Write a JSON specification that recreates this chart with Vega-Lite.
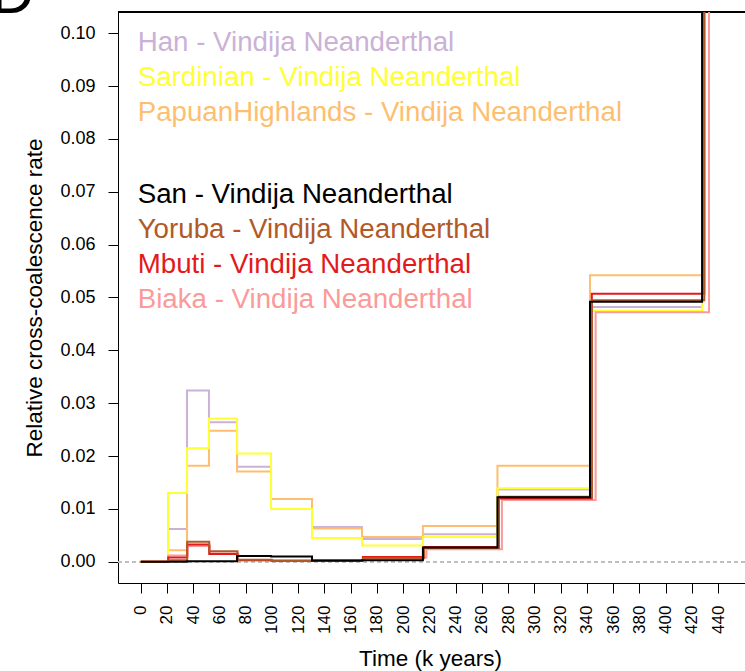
{
  "$schema": "https://vega.github.io/schema/vega-lite/v6.json",
  "autosize": "none",
  "width": 627,
  "height": 571,
  "padding": {"left": 118, "top": 12, "right": 0, "bottom": 88},
  "background": "white",
  "config": {
    "view": {"stroke": null},
    "font": "Liberation Sans",
    "axis": {"grid": false, "domainColor": "black", "tickColor": "black", "labelColor": "black", "titleColor": "black", "titleFontWeight": "normal", "labelFont": "Liberation Sans", "titleFont": "Liberation Sans", "labelOverlap": false, "labelFlush": false},
    "axisX": {"labelOverlap": false, "labelAngle": 270, "tickSize": 10, "labelPadding": 12, "labelFontSize": 17}
  },
  "datasets": {
    "label": [{"letter": "D"}],
    "rates": [
    {"pair":"Han","region":"non","time":0,"rate":0},
    {"pair":"Han","region":"non","time":20.8,"rate":0.0062},
    {"pair":"Han","region":"non","time":35.3,"rate":0.0324},
    {"pair":"Han","region":"non","time":52,"rate":0.0264},
    {"pair":"Han","region":"non","time":73.4,"rate":0.0180},
    {"pair":"Han","region":"non","time":99.3,"rate":0.0119},
    {"pair":"Han","region":"non","time":130.5,"rate":0.0066},
    {"pair":"Han","region":"non","time":168.6,"rate":0.0043},
    {"pair":"Han","region":"non","time":215,"rate":0.0052},
    {"pair":"Han","region":"non","time":271.8,"rate":0.0137},
    {"pair":"Han","region":"non","time":342.3,"rate":0.0482},
    {"pair":"Han","region":"non","time":427.7,"rate":0.3},
    {"pair":"Han","region":"non","time":470,"rate":0.3},
    {"pair":"PapuanHighlands","region":"non","time":0,"rate":0},
    {"pair":"PapuanHighlands","region":"non","time":20.8,"rate":0.0022},
    {"pair":"PapuanHighlands","region":"non","time":35.3,"rate":0.0182},
    {"pair":"PapuanHighlands","region":"non","time":52,"rate":0.0248},
    {"pair":"PapuanHighlands","region":"non","time":73.4,"rate":0.0171},
    {"pair":"PapuanHighlands","region":"non","time":99.3,"rate":0.0119},
    {"pair":"PapuanHighlands","region":"non","time":130.5,"rate":0.0063},
    {"pair":"PapuanHighlands","region":"non","time":168.6,"rate":0.0047},
    {"pair":"PapuanHighlands","region":"non","time":215,"rate":0.0068},
    {"pair":"PapuanHighlands","region":"non","time":271.8,"rate":0.0182},
    {"pair":"PapuanHighlands","region":"non","time":342.3,"rate":0.0542},
    {"pair":"PapuanHighlands","region":"non","time":427.7,"rate":0.3},
    {"pair":"PapuanHighlands","region":"non","time":470,"rate":0.3},
    {"pair":"Sardinian","region":"non","time":0,"rate":0},
    {"pair":"Sardinian","region":"non","time":20.8,"rate":0.0130},
    {"pair":"Sardinian","region":"non","time":35.3,"rate":0.0215},
    {"pair":"Sardinian","region":"non","time":52,"rate":0.0271},
    {"pair":"Sardinian","region":"non","time":73.4,"rate":0.0205},
    {"pair":"Sardinian","region":"non","time":99.3,"rate":0.0100},
    {"pair":"Sardinian","region":"non","time":130.5,"rate":0.0045},
    {"pair":"Sardinian","region":"non","time":168.6,"rate":0.0031},
    {"pair":"Sardinian","region":"non","time":215,"rate":0.0047},
    {"pair":"Sardinian","region":"non","time":271.8,"rate":0.0139},
    {"pair":"Sardinian","region":"non","time":342.3,"rate":0.0475},
    {"pair":"Sardinian","region":"non","time":427.7,"rate":0.3},
    {"pair":"Sardinian","region":"non","time":470,"rate":0.3},
    {"pair":"Biaka","region":"afr","time":0,"rate":0},
    {"pair":"Biaka","region":"afr","time":21.1,"rate":0.0012},
    {"pair":"Biaka","region":"afr","time":35.7,"rate":0.0030},
    {"pair":"Biaka","region":"afr","time":52.7,"rate":0.0016},
    {"pair":"Biaka","region":"afr","time":74.3,"rate":0.0003},
    {"pair":"Biaka","region":"afr","time":100.5,"rate":0.0002},
    {"pair":"Biaka","region":"afr","time":132.1,"rate":0.0003},
    {"pair":"Biaka","region":"afr","time":170.7,"rate":0.0008},
    {"pair":"Biaka","region":"afr","time":217.7,"rate":0.0024},
    {"pair":"Biaka","region":"afr","time":275.2,"rate":0.0117},
    {"pair":"Biaka","region":"afr","time":346.6,"rate":0.0472},
    {"pair":"Biaka","region":"afr","time":433,"rate":0.3},
    {"pair":"Biaka","region":"afr","time":470,"rate":0.3},
    {"pair":"Mbuti","region":"afr","time":0,"rate":0},
    {"pair":"Mbuti","region":"afr","time":20.9,"rate":0.0008},
    {"pair":"Mbuti","region":"afr","time":35.4,"rate":0.0033},
    {"pair":"Mbuti","region":"afr","time":52.2,"rate":0.0015},
    {"pair":"Mbuti","region":"afr","time":73.7,"rate":0.0003},
    {"pair":"Mbuti","region":"afr","time":99.7,"rate":0.0002},
    {"pair":"Mbuti","region":"afr","time":131,"rate":0.0003},
    {"pair":"Mbuti","region":"afr","time":169.3,"rate":0.0009},
    {"pair":"Mbuti","region":"afr","time":215.9,"rate":0.0028},
    {"pair":"Mbuti","region":"afr","time":272.9,"rate":0.0120},
    {"pair":"Mbuti","region":"afr","time":343.7,"rate":0.0507},
    {"pair":"Mbuti","region":"afr","time":429.4,"rate":0.3},
    {"pair":"Mbuti","region":"afr","time":470,"rate":0.3},
    {"pair":"Yoruba","region":"afr","time":0,"rate":0},
    {"pair":"Yoruba","region":"afr","time":20.9,"rate":0.0003},
    {"pair":"Yoruba","region":"afr","time":35.4,"rate":0.0038},
    {"pair":"Yoruba","region":"afr","time":52.2,"rate":0.0020},
    {"pair":"Yoruba","region":"afr","time":73.7,"rate":0.0004},
    {"pair":"Yoruba","region":"afr","time":99.7,"rate":0.0002},
    {"pair":"Yoruba","region":"afr","time":131,"rate":0.0003},
    {"pair":"Yoruba","region":"afr","time":169.3,"rate":0.0007},
    {"pair":"Yoruba","region":"afr","time":215.9,"rate":0.0026},
    {"pair":"Yoruba","region":"afr","time":272.9,"rate":0.0123},
    {"pair":"Yoruba","region":"afr","time":343.7,"rate":0.0495},
    {"pair":"Yoruba","region":"afr","time":429.4,"rate":0.3},
    {"pair":"Yoruba","region":"afr","time":470,"rate":0.3},
    {"pair":"San","region":"afr","time":0,"rate":0},
    {"pair":"San","region":"afr","time":20.8,"rate":0.0000},
    {"pair":"San","region":"afr","time":35.3,"rate":0.0001},
    {"pair":"San","region":"afr","time":52,"rate":0.0001},
    {"pair":"San","region":"afr","time":73.4,"rate":0.0011},
    {"pair":"San","region":"afr","time":99.3,"rate":0.0010},
    {"pair":"San","region":"afr","time":130.5,"rate":0.0002},
    {"pair":"San","region":"afr","time":168.6,"rate":0.0003},
    {"pair":"San","region":"afr","time":215,"rate":0.0027},
    {"pair":"San","region":"afr","time":271.8,"rate":0.0122},
    {"pair":"San","region":"afr","time":342.3,"rate":0.0492},
    {"pair":"San","region":"afr","time":427.7,"rate":0.3},
    {"pair":"San","region":"afr","time":470,"rate":0.3}
  ]},
  "data": {"name": "rates"},
  "layer": [
    {
      "mark": {"type": "rule", "color": "#BEBEBE", "strokeDash": [4, 3], "strokeWidth": 1},
      "encoding": {"y": {"datum": 0, "type": "quantitative"}}
    },
    {
      "mark": {"type": "rule", "color": "black", "strokeWidth": 1},
      "encoding": {"y": {"datum": 0.104, "type": "quantitative"}}
    },
    {
      "transform": [{"filter": "datum.region === 'non'"}],
      "mark": {"type": "line", "interpolate": "step-after", "clip": true, "strokeWidth": 2},
      "encoding": {
        "x": {"field": "time", "type": "quantitative",
              "scale": {"domain": [-17.3, 460.4], "nice": false, "zero": false},
              "axis": {"values": [0,20,40,60,80,100,120,140,160,180,200,220,240,260,280,300,320,340,360,380,400,420,440],
                       "labelAngle": 270, "tickSize": 10, "labelPadding": 12, "labelFontSize": 17,
                       "labelOverlap": false, "labelFlush": false,
                       "title": "Time (k years)", "titleFontSize": 22.5, "titlePadding": 14, "titleX": 312, "titleAnchor": "start", "titleAlign": "center",
                       "domain": true}},
        "y": {"field": "rate", "type": "quantitative",
              "scale": {"domain": [-0.004, 0.104], "nice": false, "zero": false},
              "axis": {"values": [0,0.01,0.02,0.03,0.04,0.05,0.06,0.07,0.08,0.09,0.1], "format": ".2f",
                       "tickSize": 10, "labelPadding": 13, "labelFontSize": 18, "labelOverlap": false, "labelFlush": false,
                       "title": "Relative cross-coalescence rate", "titleFontSize": 22.5, "titlePadding": 13, "domain": true}},
        "color": {"field": "pair", "type": "nominal",
                  "scale": {"domain": ["Han", "Sardinian", "PapuanHighlands"], "range": ["#CAB2D6", "#FFFF33", "#FDBF6F"]},
                  "legend": {"orient": "none", "legendX": -8, "legendY": 17, "title": null, "padding": 0,
                             "symbolSize": 0, "symbolStrokeWidth": 0, "symbolOpacity": 0, "labelOffset": 0,
                             "labelFontSize": 27.7, "labelFont": "Liberation Sans", "labelLimit": 1000, "rowPadding": 6,
                             "labelExpr": "datum.label + ' - Vindija Neanderthal'",
                             "encode": {"labels": {"update": {"fill": {"scale": "color", "field": "value"}}}}}}
      }
    },
    {
      "transform": [{"filter": "datum.region === 'afr'"}],
      "mark": {"type": "line", "interpolate": "step-after", "clip": true, "strokeWidth": 2},
      "encoding": {
        "x": {"field": "time", "type": "quantitative",
              "axis": {"values": [0,20,40,60,80,100,120,140,160,180,200,220,240,260,280,300,320,340,360,380,400,420,440],
                       "labelAngle": 270, "tickSize": 10, "labelPadding": 12, "labelFontSize": 17,
                       "labelOverlap": false, "labelFlush": false,
                       "title": "Time (k years)", "titleFontSize": 22.5, "titlePadding": 14, "titleX": 312, "titleAnchor": "start", "titleAlign": "center",
                       "domain": true}},
        "y": {"field": "rate", "type": "quantitative"},
        "stroke": {"field": "pair", "type": "nominal",
                  "scale": {"domain": ["San", "Yoruba", "Mbuti", "Biaka"], "range": ["#000000", "#B15928", "#E31A1C", "#FB9A99"]},
                  "legend": {"orient": "none", "legendX": -8, "legendY": 169, "title": null, "padding": 0,
                             "symbolSize": 0, "symbolStrokeWidth": 0, "symbolOpacity": 0, "labelOffset": 0,
                             "labelFontSize": 27.7, "labelFont": "Liberation Sans", "labelLimit": 1000, "rowPadding": 6,
                             "labelExpr": "datum.label + ' - Vindija Neanderthal'",
                             "encode": {"labels": {"update": {"fill": {"scale": "stroke", "field": "value"}}}}}}
      }
    },
    {
      "data": {"name": "label"},
      "mark": {"type": "text", "fontSize": 60, "font": "Liberation Sans", "align": "left", "baseline": "alphabetic", "color": "black", "clip": false},
      "encoding": {
        "text": {"field": "letter", "type": "nominal"},
        "x": {"datum": -114, "type": "quantitative",
              "axis": {"values": [0,20,40,60,80,100,120,140,160,180,200,220,240,260,280,300,320,340,360,380,400,420,440],
                       "labelAngle": 270, "tickSize": 10, "labelPadding": 12, "labelFontSize": 17,
                       "labelOverlap": false, "labelFlush": false,
                       "title": "Time (k years)", "titleFontSize": 22.5, "titlePadding": 14, "titleX": 312, "titleAnchor": "start", "titleAlign": "center",
                       "domain": true}},
        "y": {"datum": 0.1039, "type": "quantitative"}
      }
    }
  ]
}
